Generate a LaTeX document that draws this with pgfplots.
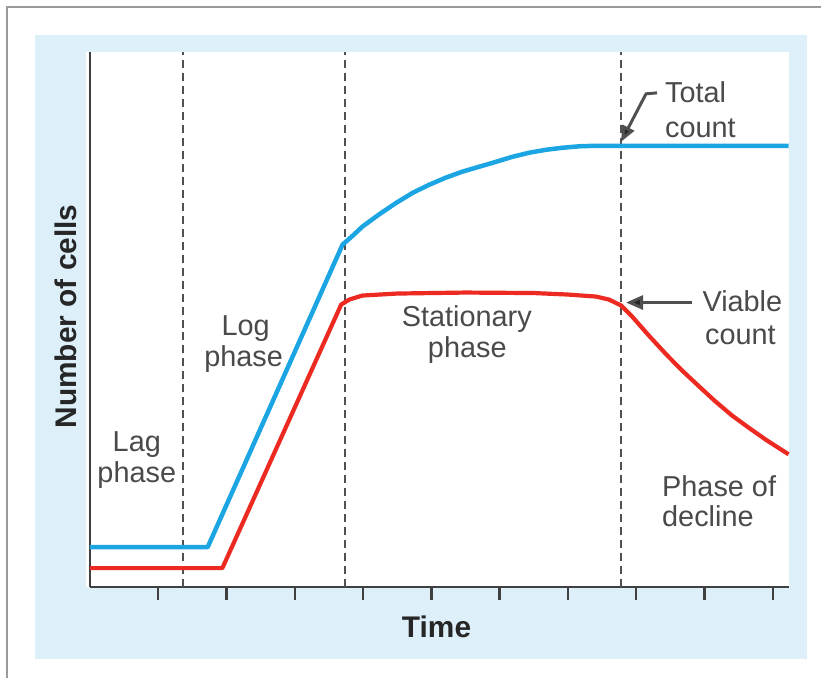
\documentclass[border=0pt]{standalone}
\usepackage{pgfplots}
\pgfplotsset{compat=1.18}
\usepackage{fontspec}
\setmainfont{Liberation Sans}
\usetikzlibrary{arrows.meta}

\definecolor{panel}{HTML}{DDF0FA}
\definecolor{totalc}{HTML}{1BA6E3}
\definecolor{viablec}{HTML}{EC2A22}
\definecolor{framec}{HTML}{9A9A9A}
\definecolor{txt}{HTML}{4A4A4A}
\definecolor{axisgray}{HTML}{404040}
\definecolor{dashgray}{HTML}{505050}

\begin{document}
\begin{tikzpicture}
% page, frame and panel (axis origin sits at pixel 90,588)
\fill[white] (-90bp,-91bp) rectangle (732bp,588bp);
\draw[framec, line width=2.5bp] (-83bp,-91bp) -- (-83bp,581bp) -- (732bp,581bp);
\fill[panel] (-55bp,-72bp) rectangle (718bp,553bp);
\fill[white] (-4bp,0bp) rectangle (700bp,536bp);

\begin{axis}[
  at={(0,0)}, anchor=south west,
  scale only axis, width=700bp, height=536bp,
  xmin=0, xmax=10.234, ymin=0, ymax=536,
  axis lines*=left,
  axis line style={axisgray, line width=2.5bp, -},
  xtick={1,...,10}, xticklabels={}, ytick=\empty,
  tick align=outside, major tick length=13bp,
  every tick/.style={axisgray, line width=2.5bp},
  clip=false,
  xlabel={Time}, ylabel={Number of cells},
  label style={font=\fontsize{30}{32}\selectfont\bfseries, text=black!85},
  xlabel style={at={(axis description cs:0.496,-0.0933)}, anchor=base},
  ylabel style={at={(axis description cs:-0.0186,0.5056)}, anchor=base},
]
% phase boundaries
\addplot[dashgray, line width=2.2bp, dash pattern=on 8bp off 5bp] coordinates {(1.36,0) (1.36,536)};
\addplot[dashgray, line width=2.2bp, dash pattern=on 8bp off 5bp] coordinates {(3.73,0) (3.73,536)};
\addplot[dashgray, line width=2.2bp, dash pattern=on 8bp off 5bp] coordinates {(7.78,0) (7.78,536)};

% total count
\addplot[totalc, line width=4.5bp, line join=round] coordinates {
(0,40) (1.725,40) (3.70,343) (3.85,352) (3.99,361) (4.25,374) (4.49,385)
(4.73,395) (4.97,403) (5.21,410) (5.45,416) (5.70,421) (5.95,426) (6.19,431)
(6.43,435) (6.68,438) (6.92,440) (7.17,441.5) (7.41,442) (7.89,442) (10.23,442)};

% viable count
\addplot[viablec, line width=4.2bp, line join=round] coordinates {
(0,19) (1.94,19) (3.68,283) (3.80,288) (3.99,292) (4.5,294) (5.5,295)
(6.5,294.5) (7.0,293) (7.41,291) (7.60,288) (7.78,282) (7.94,271) (8.19,251.5)
(8.44,233) (8.67,217) (8.92,201) (9.15,186.5) (9.40,172) (9.65,159.5)
(9.90,147.5) (10.23,133)};
\end{axis}

% pointers
\draw[dashgray, line width=3bp, -{Triangle[length=16bp,width=13bp,fill=black!85]}]
  (568bp,495bp) -- (557bp,494bp) -- (532bp,446bp);
\draw[dashgray, line width=3bp, -{Triangle[length=17bp,width=14bp,fill=black!85]}]
  (603bp,285bp) -- (537bp,285bp);

% annotations
\begin{scope}[every node/.style={inner sep=0pt, text=txt, font=\fontsize{29}{31}\selectfont}]
\node[anchor=base] at (47bp,136bp) {Lag};
\node[anchor=base] at (47bp,105bp) {phase};
\node[anchor=base] at (156bp,252bp) {Log};
\node[anchor=base] at (154bp,221bp) {phase};
\node[anchor=base] at (377.5bp,261bp) {Stationary};
\node[anchor=base] at (378bp,230bp) {phase};
\node[anchor=base west] at (576bp,485bp) {Total};
\node[anchor=base west] at (576bp,450bp) {count};
\node[anchor=base] at (653.5bp,276bp) {Viable};
\node[anchor=base] at (651.5bp,243bp) {count};
\node[anchor=base west] at (573bp,91bp) {Phase of};
\node[anchor=base west] at (573bp,61bp) {decline};
\end{scope}
\end{tikzpicture}
\end{document}
